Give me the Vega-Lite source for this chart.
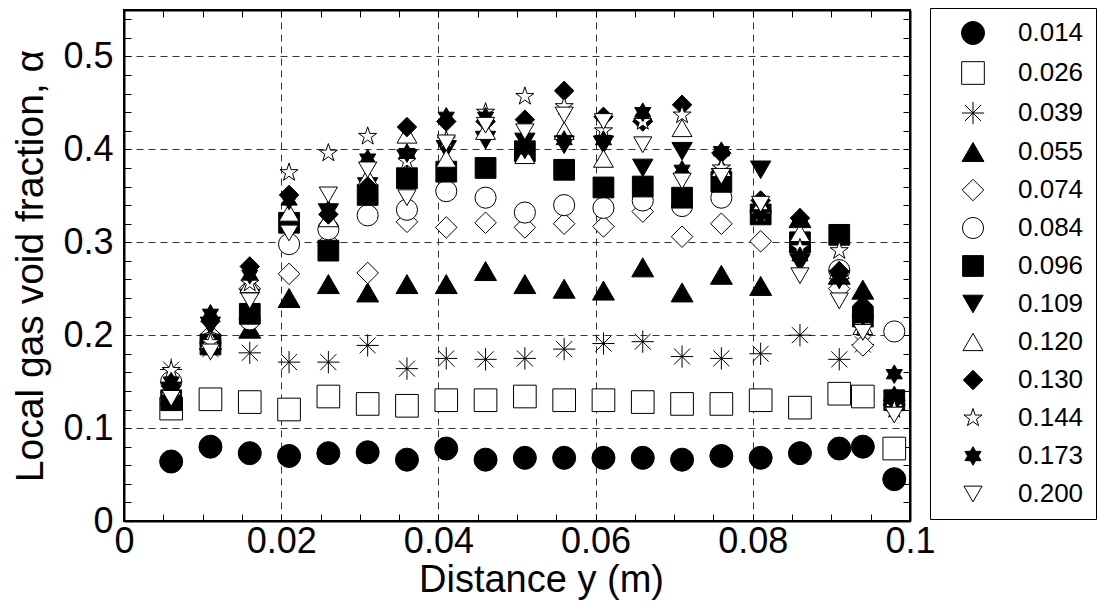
{
  "$schema": "https://vega.github.io/schema/vega-lite/v6.json",
  "width": 786,
  "height": 511,
  "autosize": {"type": "none"},
  "padding": {"left": 124, "top": 10, "right": 187, "bottom": 92},
  "background": "white",
  "config": {
    "view": {"stroke": "black", "strokeWidth": 2},
    "font": "Liberation Sans"
  },
  "data": {"values": [
    {"y_m":0.006,"alpha":0.064,"jg":"0.014"},{"y_m":0.011,"alpha":0.080,"jg":"0.014"},{"y_m":0.016,"alpha":0.073,"jg":"0.014"},{"y_m":0.021,"alpha":0.070,"jg":"0.014"},{"y_m":0.026,"alpha":0.073,"jg":"0.014"},{"y_m":0.031,"alpha":0.074,"jg":"0.014"},{"y_m":0.036,"alpha":0.066,"jg":"0.014"},{"y_m":0.041,"alpha":0.078,"jg":"0.014"},{"y_m":0.046,"alpha":0.066,"jg":"0.014"},{"y_m":0.051,"alpha":0.068,"jg":"0.014"},{"y_m":0.056,"alpha":0.068,"jg":"0.014"},{"y_m":0.061,"alpha":0.068,"jg":"0.014"},{"y_m":0.066,"alpha":0.068,"jg":"0.014"},{"y_m":0.071,"alpha":0.066,"jg":"0.014"},{"y_m":0.076,"alpha":0.070,"jg":"0.014"},{"y_m":0.081,"alpha":0.068,"jg":"0.014"},{"y_m":0.086,"alpha":0.073,"jg":"0.014"},{"y_m":0.091,"alpha":0.078,"jg":"0.014"},{"y_m":0.094,"alpha":0.080,"jg":"0.014"},{"y_m":0.098,"alpha":0.045,"jg":"0.014"},
    {"y_m":0.006,"alpha":0.121,"jg":"0.026"},{"y_m":0.011,"alpha":0.131,"jg":"0.026"},{"y_m":0.016,"alpha":0.128,"jg":"0.026"},{"y_m":0.021,"alpha":0.120,"jg":"0.026"},{"y_m":0.026,"alpha":0.134,"jg":"0.026"},{"y_m":0.031,"alpha":0.126,"jg":"0.026"},{"y_m":0.036,"alpha":0.124,"jg":"0.026"},{"y_m":0.041,"alpha":0.130,"jg":"0.026"},{"y_m":0.046,"alpha":0.130,"jg":"0.026"},{"y_m":0.051,"alpha":0.134,"jg":"0.026"},{"y_m":0.056,"alpha":0.130,"jg":"0.026"},{"y_m":0.061,"alpha":0.130,"jg":"0.026"},{"y_m":0.066,"alpha":0.128,"jg":"0.026"},{"y_m":0.071,"alpha":0.126,"jg":"0.026"},{"y_m":0.076,"alpha":0.126,"jg":"0.026"},{"y_m":0.081,"alpha":0.130,"jg":"0.026"},{"y_m":0.086,"alpha":0.122,"jg":"0.026"},{"y_m":0.091,"alpha":0.137,"jg":"0.026"},{"y_m":0.094,"alpha":0.134,"jg":"0.026"},{"y_m":0.098,"alpha":0.078,"jg":"0.026"},
    {"y_m":0.006,"alpha":0.163,"jg":"0.039"},{"y_m":0.011,"alpha":0.185,"jg":"0.039"},{"y_m":0.016,"alpha":0.181,"jg":"0.039"},{"y_m":0.021,"alpha":0.171,"jg":"0.039"},{"y_m":0.026,"alpha":0.171,"jg":"0.039"},{"y_m":0.031,"alpha":0.189,"jg":"0.039"},{"y_m":0.036,"alpha":0.164,"jg":"0.039"},{"y_m":0.041,"alpha":0.175,"jg":"0.039"},{"y_m":0.046,"alpha":0.174,"jg":"0.039"},{"y_m":0.051,"alpha":0.175,"jg":"0.039"},{"y_m":0.056,"alpha":0.185,"jg":"0.039"},{"y_m":0.061,"alpha":0.191,"jg":"0.039"},{"y_m":0.066,"alpha":0.193,"jg":"0.039"},{"y_m":0.071,"alpha":0.177,"jg":"0.039"},{"y_m":0.076,"alpha":0.175,"jg":"0.039"},{"y_m":0.081,"alpha":0.180,"jg":"0.039"},{"y_m":0.086,"alpha":0.200,"jg":"0.039"},{"y_m":0.091,"alpha":0.174,"jg":"0.039"},{"y_m":0.094,"alpha":0.190,"jg":"0.039"},{"y_m":0.098,"alpha":0.130,"jg":"0.039"},
    {"y_m":0.006,"alpha":0.135,"jg":"0.055"},{"y_m":0.011,"alpha":0.195,"jg":"0.055"},{"y_m":0.016,"alpha":0.207,"jg":"0.055"},{"y_m":0.021,"alpha":0.240,"jg":"0.055"},{"y_m":0.026,"alpha":0.255,"jg":"0.055"},{"y_m":0.031,"alpha":0.246,"jg":"0.055"},{"y_m":0.036,"alpha":0.255,"jg":"0.055"},{"y_m":0.041,"alpha":0.255,"jg":"0.055"},{"y_m":0.046,"alpha":0.269,"jg":"0.055"},{"y_m":0.051,"alpha":0.255,"jg":"0.055"},{"y_m":0.056,"alpha":0.250,"jg":"0.055"},{"y_m":0.061,"alpha":0.248,"jg":"0.055"},{"y_m":0.066,"alpha":0.273,"jg":"0.055"},{"y_m":0.071,"alpha":0.246,"jg":"0.055"},{"y_m":0.076,"alpha":0.265,"jg":"0.055"},{"y_m":0.081,"alpha":0.253,"jg":"0.055"},{"y_m":0.086,"alpha":0.326,"jg":"0.055"},{"y_m":0.091,"alpha":0.265,"jg":"0.055"},{"y_m":0.094,"alpha":0.249,"jg":"0.055"},{"y_m":0.098,"alpha":0.135,"jg":"0.055"},
    {"y_m":0.006,"alpha":0.150,"jg":"0.074"},{"y_m":0.011,"alpha":0.200,"jg":"0.074"},{"y_m":0.016,"alpha":0.250,"jg":"0.074"},{"y_m":0.021,"alpha":0.266,"jg":"0.074"},{"y_m":0.026,"alpha":0.300,"jg":"0.074"},{"y_m":0.031,"alpha":0.267,"jg":"0.074"},{"y_m":0.036,"alpha":0.322,"jg":"0.074"},{"y_m":0.041,"alpha":0.316,"jg":"0.074"},{"y_m":0.046,"alpha":0.321,"jg":"0.074"},{"y_m":0.051,"alpha":0.316,"jg":"0.074"},{"y_m":0.056,"alpha":0.320,"jg":"0.074"},{"y_m":0.061,"alpha":0.317,"jg":"0.074"},{"y_m":0.066,"alpha":0.333,"jg":"0.074"},{"y_m":0.071,"alpha":0.306,"jg":"0.074"},{"y_m":0.076,"alpha":0.320,"jg":"0.074"},{"y_m":0.081,"alpha":0.301,"jg":"0.074"},{"y_m":0.086,"alpha":0.290,"jg":"0.074"},{"y_m":0.091,"alpha":0.250,"jg":"0.074"},{"y_m":0.094,"alpha":0.189,"jg":"0.074"},{"y_m":0.098,"alpha":0.130,"jg":"0.074"},
    {"y_m":0.006,"alpha":0.150,"jg":"0.084"},{"y_m":0.011,"alpha":0.192,"jg":"0.084"},{"y_m":0.016,"alpha":0.217,"jg":"0.084"},{"y_m":0.021,"alpha":0.298,"jg":"0.084"},{"y_m":0.026,"alpha":0.314,"jg":"0.084"},{"y_m":0.031,"alpha":0.329,"jg":"0.084"},{"y_m":0.036,"alpha":0.335,"jg":"0.084"},{"y_m":0.041,"alpha":0.355,"jg":"0.084"},{"y_m":0.046,"alpha":0.348,"jg":"0.084"},{"y_m":0.051,"alpha":0.332,"jg":"0.084"},{"y_m":0.056,"alpha":0.340,"jg":"0.084"},{"y_m":0.061,"alpha":0.337,"jg":"0.084"},{"y_m":0.066,"alpha":0.345,"jg":"0.084"},{"y_m":0.071,"alpha":0.339,"jg":"0.084"},{"y_m":0.076,"alpha":0.348,"jg":"0.084"},{"y_m":0.081,"alpha":0.333,"jg":"0.084"},{"y_m":0.086,"alpha":0.294,"jg":"0.084"},{"y_m":0.091,"alpha":0.270,"jg":"0.084"},{"y_m":0.094,"alpha":0.220,"jg":"0.084"},{"y_m":0.098,"alpha":0.204,"jg":"0.084"},
    {"y_m":0.006,"alpha":0.130,"jg":"0.096"},{"y_m":0.011,"alpha":0.190,"jg":"0.096"},{"y_m":0.016,"alpha":0.223,"jg":"0.096"},{"y_m":0.021,"alpha":0.321,"jg":"0.096"},{"y_m":0.026,"alpha":0.291,"jg":"0.096"},{"y_m":0.031,"alpha":0.351,"jg":"0.096"},{"y_m":0.036,"alpha":0.369,"jg":"0.096"},{"y_m":0.041,"alpha":0.376,"jg":"0.096"},{"y_m":0.046,"alpha":0.380,"jg":"0.096"},{"y_m":0.051,"alpha":0.398,"jg":"0.096"},{"y_m":0.056,"alpha":0.378,"jg":"0.096"},{"y_m":0.061,"alpha":0.359,"jg":"0.096"},{"y_m":0.066,"alpha":0.360,"jg":"0.096"},{"y_m":0.071,"alpha":0.348,"jg":"0.096"},{"y_m":0.076,"alpha":0.365,"jg":"0.096"},{"y_m":0.081,"alpha":0.330,"jg":"0.096"},{"y_m":0.086,"alpha":0.300,"jg":"0.096"},{"y_m":0.091,"alpha":0.308,"jg":"0.096"},{"y_m":0.094,"alpha":0.220,"jg":"0.096"},{"y_m":0.098,"alpha":0.130,"jg":"0.096"},
    {"y_m":0.006,"alpha":0.140,"jg":"0.109"},{"y_m":0.011,"alpha":0.210,"jg":"0.109"},{"y_m":0.016,"alpha":0.240,"jg":"0.109"},{"y_m":0.021,"alpha":0.320,"jg":"0.109"},{"y_m":0.026,"alpha":0.332,"jg":"0.109"},{"y_m":0.031,"alpha":0.360,"jg":"0.109"},{"y_m":0.036,"alpha":0.390,"jg":"0.109"},{"y_m":0.041,"alpha":0.400,"jg":"0.109"},{"y_m":0.046,"alpha":0.410,"jg":"0.109"},{"y_m":0.051,"alpha":0.408,"jg":"0.109"},{"y_m":0.056,"alpha":0.405,"jg":"0.109"},{"y_m":0.061,"alpha":0.405,"jg":"0.109"},{"y_m":0.066,"alpha":0.380,"jg":"0.109"},{"y_m":0.071,"alpha":0.398,"jg":"0.109"},{"y_m":0.076,"alpha":0.370,"jg":"0.109"},{"y_m":0.081,"alpha":0.378,"jg":"0.109"},{"y_m":0.086,"alpha":0.278,"jg":"0.109"},{"y_m":0.091,"alpha":0.260,"jg":"0.109"},{"y_m":0.094,"alpha":0.220,"jg":"0.109"},{"y_m":0.098,"alpha":0.130,"jg":"0.109"},
    {"y_m":0.006,"alpha":0.145,"jg":"0.120"},{"y_m":0.011,"alpha":0.195,"jg":"0.120"},{"y_m":0.016,"alpha":0.255,"jg":"0.120"},{"y_m":0.021,"alpha":0.332,"jg":"0.120"},{"y_m":0.026,"alpha":0.326,"jg":"0.120"},{"y_m":0.031,"alpha":0.370,"jg":"0.120"},{"y_m":0.036,"alpha":0.416,"jg":"0.120"},{"y_m":0.041,"alpha":0.390,"jg":"0.120"},{"y_m":0.046,"alpha":0.420,"jg":"0.120"},{"y_m":0.051,"alpha":0.394,"jg":"0.120"},{"y_m":0.056,"alpha":0.420,"jg":"0.120"},{"y_m":0.061,"alpha":0.390,"jg":"0.120"},{"y_m":0.066,"alpha":0.439,"jg":"0.120"},{"y_m":0.071,"alpha":0.423,"jg":"0.120"},{"y_m":0.076,"alpha":0.380,"jg":"0.120"},{"y_m":0.081,"alpha":0.340,"jg":"0.120"},{"y_m":0.086,"alpha":0.310,"jg":"0.120"},{"y_m":0.091,"alpha":0.270,"jg":"0.120"},{"y_m":0.094,"alpha":0.210,"jg":"0.120"},{"y_m":0.098,"alpha":0.130,"jg":"0.120"},
    {"y_m":0.006,"alpha":0.145,"jg":"0.130"},{"y_m":0.011,"alpha":0.215,"jg":"0.130"},{"y_m":0.016,"alpha":0.274,"jg":"0.130"},{"y_m":0.021,"alpha":0.351,"jg":"0.130"},{"y_m":0.026,"alpha":0.330,"jg":"0.130"},{"y_m":0.031,"alpha":0.360,"jg":"0.130"},{"y_m":0.036,"alpha":0.424,"jg":"0.130"},{"y_m":0.041,"alpha":0.430,"jg":"0.130"},{"y_m":0.046,"alpha":0.430,"jg":"0.130"},{"y_m":0.051,"alpha":0.432,"jg":"0.130"},{"y_m":0.056,"alpha":0.463,"jg":"0.130"},{"y_m":0.061,"alpha":0.435,"jg":"0.130"},{"y_m":0.066,"alpha":0.430,"jg":"0.130"},{"y_m":0.071,"alpha":0.448,"jg":"0.130"},{"y_m":0.076,"alpha":0.396,"jg":"0.130"},{"y_m":0.081,"alpha":0.345,"jg":"0.130"},{"y_m":0.086,"alpha":0.326,"jg":"0.130"},{"y_m":0.091,"alpha":0.269,"jg":"0.130"},{"y_m":0.094,"alpha":0.232,"jg":"0.130"},{"y_m":0.098,"alpha":0.130,"jg":"0.130"},
    {"y_m":0.006,"alpha":0.162,"jg":"0.144"},{"y_m":0.011,"alpha":0.192,"jg":"0.144"},{"y_m":0.016,"alpha":0.256,"jg":"0.144"},{"y_m":0.021,"alpha":0.375,"jg":"0.144"},{"y_m":0.026,"alpha":0.396,"jg":"0.144"},{"y_m":0.031,"alpha":0.414,"jg":"0.144"},{"y_m":0.036,"alpha":0.387,"jg":"0.144"},{"y_m":0.041,"alpha":0.410,"jg":"0.144"},{"y_m":0.046,"alpha":0.440,"jg":"0.144"},{"y_m":0.051,"alpha":0.457,"jg":"0.144"},{"y_m":0.056,"alpha":0.446,"jg":"0.144"},{"y_m":0.061,"alpha":0.420,"jg":"0.144"},{"y_m":0.066,"alpha":0.430,"jg":"0.144"},{"y_m":0.071,"alpha":0.437,"jg":"0.144"},{"y_m":0.076,"alpha":0.380,"jg":"0.144"},{"y_m":0.081,"alpha":0.330,"jg":"0.144"},{"y_m":0.086,"alpha":0.294,"jg":"0.144"},{"y_m":0.091,"alpha":0.291,"jg":"0.144"},{"y_m":0.094,"alpha":0.210,"jg":"0.144"},{"y_m":0.098,"alpha":0.120,"jg":"0.144"},
    {"y_m":0.006,"alpha":0.150,"jg":"0.173"},{"y_m":0.011,"alpha":0.223,"jg":"0.173"},{"y_m":0.016,"alpha":0.265,"jg":"0.173"},{"y_m":0.021,"alpha":0.345,"jg":"0.173"},{"y_m":0.026,"alpha":0.335,"jg":"0.173"},{"y_m":0.031,"alpha":0.390,"jg":"0.173"},{"y_m":0.036,"alpha":0.396,"jg":"0.173"},{"y_m":0.041,"alpha":0.435,"jg":"0.173"},{"y_m":0.046,"alpha":0.435,"jg":"0.173"},{"y_m":0.051,"alpha":0.400,"jg":"0.173"},{"y_m":0.056,"alpha":0.410,"jg":"0.173"},{"y_m":0.061,"alpha":0.410,"jg":"0.173"},{"y_m":0.066,"alpha":0.440,"jg":"0.173"},{"y_m":0.071,"alpha":0.378,"jg":"0.173"},{"y_m":0.076,"alpha":0.398,"jg":"0.173"},{"y_m":0.081,"alpha":0.330,"jg":"0.173"},{"y_m":0.086,"alpha":0.285,"jg":"0.173"},{"y_m":0.091,"alpha":0.260,"jg":"0.173"},{"y_m":0.094,"alpha":0.220,"jg":"0.173"},{"y_m":0.098,"alpha":0.158,"jg":"0.173"},
    {"y_m":0.006,"alpha":0.132,"jg":"0.200"},{"y_m":0.011,"alpha":0.182,"jg":"0.200"},{"y_m":0.016,"alpha":0.237,"jg":"0.200"},{"y_m":0.021,"alpha":0.310,"jg":"0.200"},{"y_m":0.026,"alpha":0.351,"jg":"0.200"},{"y_m":0.031,"alpha":0.378,"jg":"0.200"},{"y_m":0.036,"alpha":0.348,"jg":"0.200"},{"y_m":0.041,"alpha":0.407,"jg":"0.200"},{"y_m":0.046,"alpha":0.426,"jg":"0.200"},{"y_m":0.051,"alpha":0.419,"jg":"0.200"},{"y_m":0.056,"alpha":0.437,"jg":"0.200"},{"y_m":0.061,"alpha":0.430,"jg":"0.200"},{"y_m":0.066,"alpha":0.405,"jg":"0.200"},{"y_m":0.071,"alpha":0.366,"jg":"0.200"},{"y_m":0.076,"alpha":0.371,"jg":"0.200"},{"y_m":0.081,"alpha":0.341,"jg":"0.200"},{"y_m":0.086,"alpha":0.264,"jg":"0.200"},{"y_m":0.091,"alpha":0.237,"jg":"0.200"},{"y_m":0.094,"alpha":0.203,"jg":"0.200"},{"y_m":0.098,"alpha":0.114,"jg":"0.200"}
  ]},
  "resolve": {"axis": {"x": "independent", "y": "independent"}},
  "layer": [
    {
      "mark": {"type": "point", "stroke": "black", "strokeWidth": 1, "opacity": 1, "clip": false},
      "encoding": {
        "x": {
          "field": "y_m", "type": "quantitative",
          "scale": {"domain": [0, 0.1], "nice": false, "zero": false},
          "axis": {
            "orient": "bottom",
            "values": [0,0.005,0.01,0.015,0.02,0.025,0.03,0.035,0.04,0.045,0.05,0.055,0.06,0.065,0.07,0.075,0.08,0.085,0.09,0.095,0.1],
            "format": "~g",
            "labelExpr": "round(datum.value*1000) % 20 == 0 ? datum.label : ''",
            "labelOverlap": false, "labelFlush": false,
            "labelFont": "Liberation Sans", "labelFontSize": 36, "labelColor": "black", "labelPadding": 10,
            "tickSize": -7, "tickColor": "black", "tickWidth": 1,
            "domain": true, "domainColor": "black", "domainWidth": 2,
            "grid": true, "gridColor": "#333333", "gridWidth": 1, "gridDash": [7, 5],
            "gridOpacity": {"condition": {"test": "round(datum.value*1000) % 20 != 0 || datum.value == 0 || datum.value >= 0.1", "value": 0}, "value": 1},
            "title": "Distance y (m)", "titleFont": "Liberation Sans", "titleFontSize": 38, "titleFontWeight": "normal", "titleColor": "black", "titlePadding": 2, "titleX": 417
          }
        },
        "y": {
          "field": "alpha", "type": "quantitative",
          "scale": {"domain": [0, 0.55], "nice": false, "zero": false},
          "axis": {
            "orient": "left",
            "values": [0,0.02,0.04,0.06,0.08,0.1,0.12,0.14,0.16,0.18,0.2,0.22,0.24,0.26,0.28,0.3,0.32,0.34,0.36,0.38,0.4,0.42,0.44,0.46,0.48,0.5,0.52,0.54],
            "format": "~g",
            "labelExpr": "round(datum.value*100) % 10 == 0 ? datum.label : ''",
            "labelOverlap": false, "labelFlush": false,
            "labelFont": "Liberation Sans", "labelFontSize": 36, "labelColor": "black", "labelPadding": 18,
            "tickSize": -7, "tickColor": "black", "tickWidth": 1,
            "domain": true, "domainColor": "black", "domainWidth": 2,
            "grid": true, "gridColor": "#333333", "gridWidth": 1, "gridDash": [7, 5],
            "gridOpacity": {"condition": {"test": "round(datum.value*100) % 10 != 0 || datum.value == 0", "value": 0}, "value": 1},
            "title": "Local gas void fraction, α", "titleFont": "Liberation Sans", "titleFontSize": 39, "titleFontWeight": "normal", "titleColor": "black", "titlePadding": 12
          }
        },
        "shape": {
          "field": "jg", "type": "nominal",
          "scale": {
            "domain": ["0.014","0.026","0.039","0.055","0.074","0.084","0.096","0.109","0.120","0.130","0.144","0.173","0.200"],
            "range": ["circle","square","M-1,0L1,0M0,-1L0,1M-0.72,-0.72L0.72,0.72M-0.72,0.72L0.72,-0.72","triangle-up","diamond","circle","square","triangle-down","triangle-up","diamond","M0,-1L0.2245,-0.309L0.951,-0.309L0.363,0.118L0.588,0.809L0,0.382L-0.588,0.809L-0.363,0.118L-0.951,-0.309L-0.2245,-0.309Z","M0,-1L0.2887,-0.5L0.866,-0.5L0.577,0L0.866,0.5L0.2887,0.5L0,1L-0.2887,0.5L-0.866,0.5L-0.577,0L-0.866,-0.5L-0.2887,-0.5Z","triangle-down"]
          },
          "legend": {
            "orient": "none", "legendX": 806, "legendY": -2,
            "title": null,
            "strokeColor": "black", "fillColor": "white",
            "padding": 12,
            "labelFont": "Liberation Sans", "labelFontSize": 26, "labelColor": "black",
            "rowPadding": 12, "symbolOffset": 18, "labelOffset": 32,
            "symbolStrokeColor": "black", "symbolStrokeWidth": 1, "symbolOpacity": 1
          }
        },
        "fill": {
          "field": "jg", "type": "nominal",
          "scale": {
            "domain": ["0.014","0.026","0.039","0.055","0.074","0.084","0.096","0.109","0.120","0.130","0.144","0.173","0.200"],
            "range": ["black","white","transparent","black","white","white","black","black","white","black","white","black","white"]
          }
        },
        "size": {
          "field": "jg", "type": "nominal",
          "scale": {
            "domain": ["0.014","0.026","0.039","0.055","0.074","0.084","0.096","0.109","0.120","0.130","0.144","0.173","0.200"],
            "range": [530, 330, 480, 700, 500, 515, 375, 700, 700, 576, 560, 520, 700]
          }
        }
      }
    },
    {
      "mark": {"type": "point", "opacity": 0},
      "encoding": {
        "x": {
          "field": "y_m", "type": "quantitative",
          "axis": {
            "orient": "top",
            "values": [0,0.005,0.01,0.015,0.02,0.025,0.03,0.035,0.04,0.045,0.05,0.055,0.06,0.065,0.07,0.075,0.08,0.085,0.09,0.095,0.1],
            "labels": false, "grid": false, "title": null,
            "tickSize": -7, "tickColor": "black", "tickWidth": 1,
            "domain": true, "domainColor": "black", "domainWidth": 2
          }
        },
        "y": {
          "field": "alpha", "type": "quantitative",
          "axis": {
            "orient": "right",
            "values": [0,0.02,0.04,0.06,0.08,0.1,0.12,0.14,0.16,0.18,0.2,0.22,0.24,0.26,0.28,0.3,0.32,0.34,0.36,0.38,0.4,0.42,0.44,0.46,0.48,0.5,0.52,0.54],
            "labels": false, "grid": false, "title": null,
            "tickSize": -7, "tickColor": "black", "tickWidth": 1,
            "domain": true, "domainColor": "black", "domainWidth": 2
          }
        }
      }
    }
  ]
}
